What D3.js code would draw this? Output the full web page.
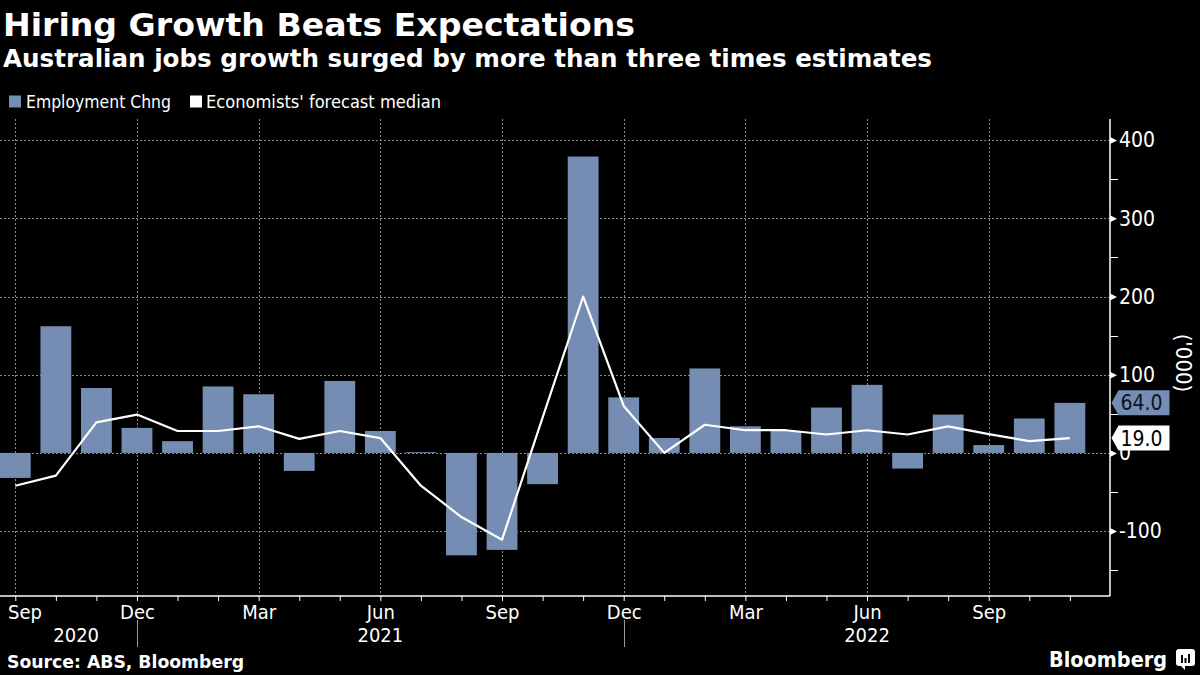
<!DOCTYPE html>
<html><head><meta charset="utf-8">
<script src="https://cdn.jsdelivr.net/npm/d3@7"></script>
<style>
html,body{margin:0;padding:0;background:#000;}
svg{display:block;}
</style></head>
<body>
<svg id="chart" width="1200" height="675"></svg>
<script>
// ---------- data ----------
const months = ["2020-09","2020-10","2020-11","2020-12","2021-01","2021-02","2021-03","2021-04","2021-05","2021-06","2021-07","2021-08","2021-09","2021-10","2021-11","2021-12","2022-01","2022-02","2022-03","2022-04","2022-05","2022-06","2022-07","2022-08","2022-09","2022-10","2022-11"];
const employment = [-32, 162, 83, 32, 15, 85, 75, -23, 92, 28, 1, -131, -124, -40, 379, 71, 19, 108, 34, 28, 58, 87, -20, 49, 10, 44, 64];
const forecast = [-42, -29, 39, 49, 28, 28, 34, 18, 28, 19, -42, -82, -111, 45, 200, 60, 0, 36, 29, 29, 23.5, 29, 23.5, 34, 24, 15, 19];
const monthNames = ["Jan","Feb","Mar","Apr","May","Jun","Jul","Aug","Sep","Oct","Nov","Dec"];
const quarterMonths = ["Mar","Jun","Sep","Dec"];
const yearLabels = ["2020","2021","2022"];
const yearBreaks = ["2020-12","2021-12"];
const yTicks = [-100, 0, 100, 200, 300, 400];
const yMinorTicks = [-150, -50, 50, 150, 250, 350];
const seriesNames = ["Employment Chng", "Economists' forecast median"];
const titleText = "Hiring Growth Beats Expectations";
const subtitleText = "Australian jobs growth surged by more than three times estimates";
const sourceText = "Source: ABS, Bloomberg";
const unitText = "('000)";

// ---------- styles ----------
const BAR = "#768db3";
const GRID = "#8a8a8a";
const FONT = "'DejaVu Sans Condensed','DejaVu Sans',sans-serif";

const svg = d3.select("#chart");
svg.append("rect").attr("width", 1200).attr("height", 675).attr("fill", "#000");

function fit(sel, w) {
  sel.each(function () {
    const l = this.getComputedTextLength();
    if (Math.abs(l - w) > 1) d3.select(this).attr("textLength", w).attr("lengthAdjust", "spacingAndGlyphs");
  });
  return sel;
}

const plot = { left: 0, right: 1110, top: 119, bottom: 596 };
const x = d3.scalePoint().domain(months).range([15.3, 15.3 + 26 * 40.56]);
const step = x.step();
const xi = i => x.range()[0] + i * step;
const barW = step * 0.76;
const y = d3.scaleLinear().domain([-183, 427]).range([plot.bottom, plot.top]);

const monthOf = m => monthNames[+m.slice(5) - 1];
const quarterTicks = months.filter(m => quarterMonths.includes(monthOf(m)));

// ---------- grid ----------
const grid = svg.append("g").attr("stroke", GRID).attr("stroke-width", 1).attr("stroke-dasharray", "2,2").attr("shape-rendering", "crispEdges");
grid.selectAll("line.h").data(yTicks).join("line").attr("class", "h")
  .attr("x1", plot.left).attr("x2", plot.right)
  .attr("y1", d => Math.round(y(d)) + 0.5).attr("y2", d => Math.round(y(d)) + 0.5);
grid.selectAll("line.v").data(quarterTicks).join("line").attr("class", "v")
  .attr("x1", d => Math.round(x(d)) + 0.5).attr("x2", d => Math.round(x(d)) + 0.5)
  .attr("y1", plot.top).attr("y2", plot.bottom);

// ---------- bars ----------
svg.append("g").selectAll("rect").data(months).join("rect")
  .attr("x", d => x(d) - barW / 2).attr("width", barW)
  .attr("y", (d, i) => y(Math.max(0, employment[i])))
  .attr("height", (d, i) => Math.abs(y(employment[i]) - y(0)))
  .attr("fill", BAR);

// ---------- line ----------
svg.append("path").datum(months)
  .attr("fill", "none").attr("stroke", "#fff").attr("stroke-width", 2.2).attr("stroke-linejoin", "round")
  .attr("d", d3.line().x(d => x(d)).y((d, i) => y(forecast[i])));

// ---------- x axis ----------
const xAxis = d3.axisBottom(x).tickSizeInner(5).tickSizeOuter(0).tickPadding(3)
  .tickFormat(m => quarterMonths.includes(monthOf(m)) ? monthOf(m) : "");
const gx = svg.append("g").attr("transform", `translate(0,${plot.bottom})`).call(xAxis);
gx.select(".domain").remove();
gx.selectAll(".tick line").attr("stroke", "#fff").attr("stroke-width", 1);
gx.selectAll(".tick text").attr("fill", "#fff").attr("font-family", FONT).attr("font-size", 20).attr("dy", "0.75em")
  .each(function () {
    // keep edge labels inside the chart area
    const b = this.getBBox();
    const tx = +d3.select(this.parentNode).attr("transform").match(/translate\(([-\d.]+)/)[1];
    if (tx + b.x < 8) d3.select(this).attr("x", 8 - (tx + b.x));
  });
svg.append("line").attr("x1", plot.left).attr("x2", plot.right).attr("y1", plot.bottom).attr("y2", plot.bottom)
  .attr("stroke", "#fff").attr("stroke-width", 1.5);

// year separators and labels
const breakIdx = yearBreaks.map(b => months.indexOf(b));
svg.append("g").selectAll("line").data(breakIdx).join("line")
  .attr("x1", d => Math.round(xi(d)) + 0.5).attr("x2", d => Math.round(xi(d)) + 0.5)
  .attr("y1", 620).attr("y2", 647).attr("stroke", "#9a9a9a").attr("stroke-width", 1);
const yearSpans = [[0, breakIdx[0]], [breakIdx[0], breakIdx[1]], [breakIdx[1], months.length]];
svg.append("g").selectAll("text").data(yearLabels).join("text")
  .attr("x", (d, i) => (xi(yearSpans[i][0]) + xi(yearSpans[i][1])) / 2)
  .attr("y", 642).attr("text-anchor", "middle")
  .attr("fill", "#fff").attr("font-family", FONT).attr("font-size", 20).text(d => d);

// ---------- y axis (right) ----------
svg.append("line").attr("x1", plot.right).attr("x2", plot.right).attr("y1", plot.top).attr("y2", plot.bottom)
  .attr("stroke", "#fff").attr("stroke-width", 1.5);
const gy = svg.append("g").attr("transform", `translate(${plot.right},0)`)
  .call(d3.axisRight(y).tickValues(yTicks).tickSize(0).tickPadding(9).tickFormat(d => String(d)));
gy.select(".domain").remove();
gy.selectAll(".tick text").attr("fill", "#fff").attr("font-family", FONT).attr("font-size", 21);
gy.selectAll(".tick").append("path").attr("d", "M0,-3.5L7,0L0,3.5Z").attr("fill", "#fff");
svg.append("g").selectAll("line").data(yMinorTicks).join("line")
  .attr("x1", plot.right).attr("x2", plot.right + 8)
  .attr("y1", d => Math.round(y(d)) + 0.5).attr("y2", d => Math.round(y(d)) + 0.5)
  .attr("stroke", "#fff").attr("stroke-width", 1);

// unit label
svg.append("text").attr("transform", `translate(1184,${y(115)}) rotate(90)`)
  .attr("text-anchor", "middle").attr("dy", "0.35em")
  .attr("fill", "#fff").attr("font-family", FONT).attr("font-size", 22).text(unitText);

// ---------- last value tags ----------
const lastIdx = months.length - 1;
const tags = [
  { v: employment[lastIdx], bg: BAR, fg: "#0b1420" },
  { v: forecast[lastIdx], bg: "#fff", fg: "#000" }
];
const gt = svg.append("g").selectAll("g").data(tags).join("g")
  .attr("transform", d => `translate(${plot.right + 1.5},${y(d.v)})`);
gt.append("path").attr("d", "M0,0L7,-12.5L58,-12.5L58,12.5L7,12.5Z").attr("fill", d => d.bg);
gt.append("text").attr("x", 9).attr("dy", "0.36em").attr("fill", d => d.fg)
  .attr("font-family", FONT).attr("font-size", 21).text(d => d3.format(".1f")(d.v));

// ---------- titles ----------
fit(svg.append("text").attr("x", 3).attr("y", 36).attr("fill", "#fff").attr("font-family", FONT)
  .attr("font-weight", "bold").attr("font-size", 32).text(titleText), 632);
fit(svg.append("text").attr("x", 3).attr("y", 67).attr("fill", "#fff").attr("font-family", FONT)
  .attr("font-weight", "bold").attr("font-size", 24).text(subtitleText), 929);

// ---------- legend ----------
const legend = [
  { name: seriesNames[0], color: BAR, sx: 9, tx: 26, tw: 145 },
  { name: seriesNames[1], color: "#fff", sx: 190, tx: 206, tw: 235 }
];
const lg = svg.append("g");
lg.selectAll("rect").data(legend).join("rect").attr("x", d => d.sx).attr("y", 95.5).attr("width", 12).attr("height", 12).attr("fill", d => d.color);
lg.selectAll("text").data(legend).join("text").attr("x", d => d.tx).attr("y", 107.5)
  .attr("fill", "#fff").attr("font-family", FONT).attr("font-size", 17).text(d => d.name)
  .each(function (d) { fit(d3.select(this), d.tw); });

// ---------- footer ----------
fit(svg.append("text").attr("x", 7).attr("y", 668).attr("fill", "#fff").attr("font-family", FONT)
  .attr("font-weight", "bold").attr("font-size", 17).text(sourceText), 237);
fit(svg.append("text").attr("x", 1049).attr("y", 667).attr("fill", "#fff").attr("font-family", "'DejaVu Sans',sans-serif")
  .attr("font-weight", "bold").attr("font-size", 21).text("Bloomberg"), 118);
const logo = svg.append("g").attr("transform", "translate(1176,649)");
logo.append("rect").attr("width", 19).attr("height", 17).attr("rx", 3).attr("fill", "#fff");
logo.append("path").attr("d", "M5,17L9,21L9,17Z").attr("fill", "#fff");
logo.selectAll("rect.b").data([[5, 8], [8.5, 5], [12, 9]]).join("rect").attr("class", "b")
  .attr("x", d => d[0]).attr("y", d => 14 - d[1]).attr("width", 2).attr("height", d => d[1]).attr("fill", "#000");
</script>
</body></html>
